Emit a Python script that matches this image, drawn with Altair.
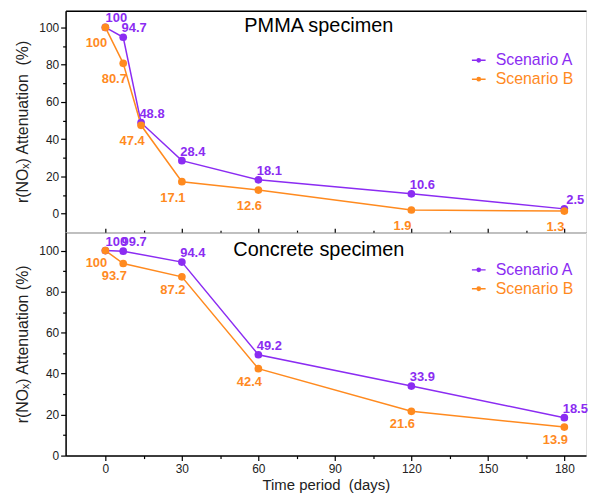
import altair as alt
import pandas as pd

# ---- data ----
series_names = ["Scenario A", "Scenario B"]
pmma_days = [0, 7, 14, 30, 60, 120, 180]
pmma_a = [100, 94.7, 48.8, 28.4, 18.1, 10.6, 2.5]
pmma_b = [100, 80.7, 47.4, 17.1, 12.6, 1.9, 1.3]
conc_days = [0, 7, 30, 60, 120, 180]
conc_a = [100, 99.7, 94.4, 49.2, 33.9, 18.5]
conc_b = [100, 93.7, 87.2, 42.4, 21.6, 13.9]
x_ticks = [0, 15, 30, 45, 60, 75, 90, 105, 120, 135, 150, 165, 180]
y_ticks = [0, 10, 20, 30, 40, 50, 60, 70, 80, 90, 100]

PURPLE = "#8B2CF2"
ORANGE = "#FF8A1F"
FONT = "Liberation Sans"
X_DOMAIN = [-15.6, 188.5]
W = 524
NB = "\u00a0"


def make_df(days, a, b):
    rows = []
    for name, vals in zip(series_names, [a, b]):
        for d, v in zip(days, vals):
            rows.append({"day": d, "val": v, "series": name, "lab": f"{v:g}"})
    return pd.DataFrame(rows)


def legend_symbol():
    p = "M-1,0H1"
    for r in [0.04, 0.08, 0.12, 0.16, 0.2, 0.24]:
        p += f"M{-r},0A{r},{r} 0 1 0 {r},0A{r},{r} 0 1 0 {-r},0"
    return p


def panel(days, a, b, title, title_y, ydomain, height, ytitle, legend_y, bottom, b_dy):
    df = make_df(days, a, b)
    base = alt.Chart(df)
    xscale = alt.Scale(domain=X_DOMAIN, nice=False, zero=False)
    yscale = alt.Scale(domain=ydomain, nice=False, zero=False)
    cscale = alt.Scale(domain=series_names, range=[PURPLE, ORANGE])

    yaxis = alt.Axis(
        values=y_ticks,
        labelExpr="datum.value % 20 == 0 ? datum.label : ''",
        tickSize=alt.condition("datum.value % 20 == 0", alt.value(5), alt.value(3)),
        tickColor="black", tickWidth=1.2, domainColor="black", domainWidth=1.5,
        labelFontSize=12, labelColor="#222", labelFont=FONT, labelPadding=2,
        title=ytitle, titleFontSize=16, titleFontWeight="normal", titleFont=FONT,
        titleColor="#222", titlePadding=8, grid=False,
    )
    if bottom:
        xaxis_b = alt.Axis(
            orient="bottom", values=x_ticks,
            labelExpr="datum.value % 30 == 0 ? datum.label : ''",
            tickSize=alt.condition("datum.value % 30 == 0", alt.value(5), alt.value(3)),
            tickColor="black", tickWidth=1.2, domainColor="black", domainWidth=1.5,
            labelFontSize=12, labelColor="#222", labelFont=FONT, labelPadding=3,
            title=f"Time period{NB}{NB}(days)", titleFontSize=15, titleFontWeight="normal",
            titleFont=FONT, titleColor="#222", titlePadding=3, grid=False,
        )
        xaxis_t = alt.Axis(
            orient="top", values=x_ticks, labels=False, domain=False,
            tickSize=alt.condition("datum.value % 30 == 0", alt.value(4), alt.value(2)),
            tickColor="black", tickWidth=1.2, title=None, grid=False,
        )
    else:
        xaxis_b = alt.Axis(orient="bottom", labels=False, ticks=False,
                           domainColor="black", domainWidth=1.5, title=None, grid=False)
        xaxis_t = alt.Axis(orient="top", labels=False, ticks=False,
                           domainColor="black", domainWidth=1.5, title=None, grid=False)

    legend = alt.Legend(
        title=None, orient="none", legendX=408, legendY=legend_y,
        symbolType=legend_symbol(), symbolSize=190, symbolStrokeWidth=1.5,
        labelFontSize=16, labelFont=FONT, labelOffset=9, rowPadding=3, padding=0,
        labelColor=alt.ExprRef(expr=f"datum.value == 'Scenario A' ? '{PURPLE}' : '{ORANGE}'"),
    )

    lines = base.mark_line(strokeWidth=1.5).encode(
        x=alt.X("day:Q", scale=xscale, axis=xaxis_b),
        y=alt.Y("val:Q", scale=yscale, axis=yaxis),
        color=alt.Color("series:N", scale=cscale, legend=legend),
    )
    points = base.mark_point(filled=True, size=60, opacity=1).encode(
        x=alt.X("day:Q", scale=xscale, axis=xaxis_t),
        y=alt.Y("val:Q", scale=yscale, axis=None),
        color=alt.Color("series:N", scale=cscale, legend=None),
    )
    txt_common = dict(font=FONT, fontSize=13, fontWeight="bold", baseline="middle", align="center")
    text_a = base.transform_filter(alt.datum.series == "Scenario A").mark_text(
        dx=11, dy=-9, **txt_common).encode(
        x=alt.X("day:Q", scale=xscale, axis=None),
        y=alt.Y("val:Q", scale=yscale, axis=None),
        text="lab:N",
        color=alt.Color("series:N", scale=cscale, legend=None),
    )
    text_b = base.transform_filter(alt.datum.series == "Scenario B").mark_text(
        dx=-9, dy=b_dy, **txt_common).encode(
        x=alt.X("day:Q", scale=xscale, axis=None),
        y=alt.Y("val:Q", scale=yscale, axis=None),
        text="lab:N",
        color=alt.Color("series:N", scale=cscale, legend=None),
    )
    ttl = alt.Chart(pd.DataFrame({"t": [title]})).mark_text(
        font=FONT, fontSize=20, color="black", baseline="middle", align="center"
    ).encode(x=alt.value(255), y=alt.value(title_y), text="t:N")

    return alt.layer(lines, points, text_a, text_b, ttl).resolve_axis(
        x="independent", y="independent"
    ).resolve_legend(color="independent").properties(width=W, height=height)


top = panel(pmma_days, pmma_a, pmma_b, "PMMA specimen", 15, [-10, 109], 223,
            f"r(NOₓ) Attenuation{NB}{NB}(%)", 42, False, 16)
bot = panel(conc_days, conc_a, conc_b, "Concrete specimen", 18, [0, 109], 225,
            "r(NOₓ) Attenuation (%)", 30, True, 13)

chart = alt.vconcat(top, bot, spacing=0, bounds="flush").resolve_legend(
    color="independent"
).properties(padding={"left": 6, "top": 0, "right": 0, "bottom": 0}).configure_view(
    stroke=None
).configure(font=FONT)

chart.save("out.html", embed_options={"renderer": "svg", "actions": False})
